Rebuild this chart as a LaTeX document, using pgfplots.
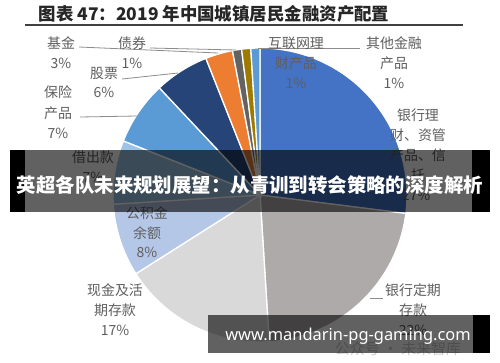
\documentclass[border=0pt]{standalone}
\usepackage{pgfplots}
\pgfplotsset{compat=1.18}
\usepackage{fontspec}
\setmainfont{Noto Sans CJK SC}
\newfontfamily\cjk{Noto Sans CJK SC}
\newfontfamily\urlfont{Noto Sans}
\definecolor{c1}{HTML}{4472C4}
\definecolor{c2}{HTML}{AEAAAA}
\definecolor{c3}{HTML}{D9D9D9}
\definecolor{c4}{HTML}{B4C7E7}
\definecolor{c5}{HTML}{9DC3E6}
\definecolor{c6}{HTML}{5B9BD5}
\definecolor{c7}{HTML}{264478}
\definecolor{c8}{HTML}{ED7D31}
\definecolor{c9}{HTML}{636363}
\definecolor{c10}{HTML}{9E7B00}
\definecolor{c11}{HTML}{5B9BD5}
\definecolor{labgray}{HTML}{5F5F5F}
\definecolor{linegray}{HTML}{8C8C8C}
\tikzset{lab/.style={font=\cjk\fontsize{14}{16}\selectfont, text=labgray, inner sep=0pt, align=center}}
% slice: start percent, end percent, colour (clockwise from 12 o'clock)
\newcommand{\slice}[3]{%
  \fill[#3, draw=white, line width=1.3bp] (axis cs:260,195) -- ++({90-3.6*(#1)}:147bp)
    arc[start angle={90-3.6*(#1)}, end angle={90-3.6*(#2)}, radius=147bp] -- cycle;}
\begin{document}
\begin{tikzpicture}
\begin{axis}[scale only axis, width=500bp, height=362bp,
  xmin=0, xmax=500, ymin=0, ymax=362, y dir=reverse,
  hide axis, clip=false]
\fill[white] (axis cs:0,0) rectangle (axis cs:500,362);
% ---- pie: shares (percent) 27, 22, 17, 8, 7, 7, 6, 3, 1, 1, 1
\slice{0}{27}{c1}
\slice{27}{49}{c2}
\slice{49}{66}{c3}
\slice{66}{74}{c4}
\slice{74}{81}{c5}
\slice{81}{88}{c6}
\slice{88}{94}{c7}
\slice{94}{97}{c8}
\slice{97}{98}{c9}
\slice{98}{99}{c10}
\slice{99}{100}{c11}
% ---- title
\node[font=\cjk\bfseries\fontsize{17.5}{18}\selectfont, text=black!85, inner sep=0pt] at (axis cs:214,14) {图表 47：2019 年中国城镇居民金融资产配置};
\draw[black!75, line width=1.4bp] (axis cs:25,25) -- (axis cs:463,25);
% ---- leader lines
\draw[linegray, line width=0.8bp] (axis cs:79,47) -- (axis cs:218,53);
\draw[linegray, line width=0.8bp] (axis cs:150,48) -- (axis cs:236,50);
\draw[linegray, line width=0.8bp] (axis cs:122,79) -- (axis cs:178,73);
\draw[linegray, line width=0.8bp] (axis cs:80,117) -- (axis cs:137,116);
\draw[linegray, line width=0.8bp] (axis cs:258,48) -- (axis cs:360,48);
\draw[linegray, line width=0.8bp] (axis cs:370,298) -- (axis cs:383,298);
% ---- labels
\node[lab] at (axis cs:61,43) {基金};
\node[lab] at (axis cs:61,63) {3\%};
\node[lab] at (axis cs:132,43) {债券};
\node[lab] at (axis cs:132,63) {1\%};
\node[lab] at (axis cs:104,73) {股票};
\node[lab] at (axis cs:104,92) {6\%};
\node[lab] at (axis cs:58,92) {保险};
\node[lab] at (axis cs:58,113) {产品};
\node[lab] at (axis cs:58,133) {7\%};
\node[lab] at (axis cs:93,157) {借出款};
\node[lab] at (axis cs:93,177) {7\%};
\node[lab] at (axis cs:147,213) {公积金};
\node[lab] at (axis cs:147,233) {余额};
\node[lab] at (axis cs:147,252) {8\%};
\node[lab] at (axis cs:115,290) {现金及活};
\node[lab] at (axis cs:115,310) {期存款};
\node[lab] at (axis cs:115,330) {17\%};
\node[lab] at (axis cs:413,290) {银行定期};
\node[lab] at (axis cs:413,310) {存款};
\node[lab] at (axis cs:413,330) {22\%};
\node[lab] at (axis cs:418,115) {银行理};
\node[lab] at (axis cs:418,135) {财、资管};
\node[lab] at (axis cs:418,155) {产品、信};
\node[lab] at (axis cs:418,175) {托};
\node[lab] at (axis cs:416,195) {27\%};
\node[lab] at (axis cs:296,43) {互联网理};
\node[lab] at (axis cs:296,63) {财产品};
\node[lab] at (axis cs:296,83) {1\%};
\node[lab] at (axis cs:394,43) {其他金融};
\node[lab] at (axis cs:394,63) {产品};
\node[lab] at (axis cs:394,83) {1\%};
\node[font=\cjk\fontsize{15}{16}\selectfont, text=black!20, inner sep=0pt] at (axis cs:398,349) {公众号 · 未来智库};
% ---- overlay banners
\fill[black, opacity=0.62] (axis cs:25,150) rectangle (axis cs:472,212);
\fill[black] (axis cs:10,150) rectangle (axis cs:25,212);
\fill[black] (axis cs:472,150) rectangle (axis cs:490,212);
\node[font=\cjk\bfseries\fontsize{19.5}{20}\selectfont, text=white, inner sep=0pt] at (axis cs:250,185) {英超各队未来规划展望：从青训到转会策略的深度解析};
\fill[black, opacity=0.62] (axis cs:208,315) rectangle (axis cs:473,353);
\fill[black] (axis cs:473,315) rectangle (axis cs:490,353);
\node[font=\urlfont\bfseries\fontsize{16.5}{17}\selectfont, text=white, inner sep=0pt] at (axis cs:348,336) {www.mandarin-pg-gaming.com};
\end{axis}
\end{tikzpicture}
\end{document}
